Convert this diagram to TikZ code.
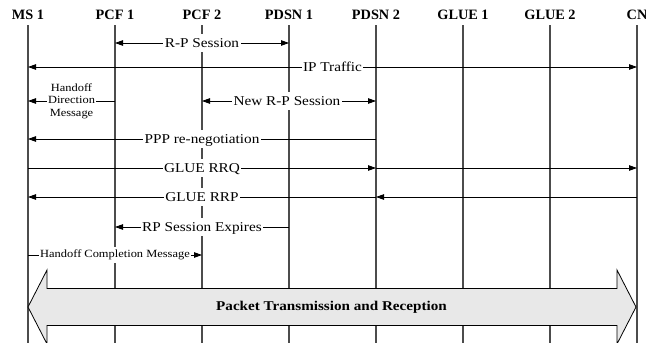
\documentclass[tikz,border=0pt]{standalone}
\usepackage{fontspec}
\setmainfont{Liberation Serif}
\newfontfamily\lblfont[FakeStretch=1.13]{Liberation Serif}
\usetikzlibrary{arrows.meta,calc}

\begin{document}
\begin{tikzpicture}[x=1pt,y=-1pt,
  head/.style={font=\fontsize{14.3}{16}\selectfont\bfseries, inner sep=0pt, anchor=base},
  life/.style={draw=black!70, line width=1.1pt},
  msg/.style={draw=black, line width=0.8pt},
  tipR/.style={-{Triangle[length=8pt,width=5.5pt]}},
  tipL/.style={{Triangle[length=8pt,width=5.5pt]}-},
  tipLR/.style={{Triangle[length=8pt,width=5.5pt]}-{Triangle[length=8pt,width=5.5pt]}},
  lbl/.style={font=\lblfont\fontsize{13.5}{15}\selectfont, fill=white,
    inner xsep=1.5pt, inner ysep=0pt, text height=9pt, text depth=0pt,
    minimum height=18pt},
  small/.style={font=\lblfont\fontsize{11}{12.5}\selectfont, fill=white,
    inner xsep=1.5pt, inner ysep=1pt, align=center},
  bigarrow/.style={draw=black, line width=0.8pt, fill=black!9},
  bigtext/.style={font=\lblfont\fontsize{13.4}{15}\selectfont\bfseries}
]
\useasboundingbox (0,0) rectangle (646,343);

% entity headers
\node[head] (ms1)   at (28,19)  {MS 1};
\node[head] (pcf1)  at (115,19) {PCF 1};
\node[head] (pcf2)  at (202,19) {PCF 2};
\node[head] (pdsn1) at (289,19) {PDSN 1};
\node[head] (pdsn2) at (376,19) {PDSN 2};
\node[head] (glue1) at (463,19) {GLUE 1};
\node[head] (glue2) at (550,19) {GLUE 2};
\node[head] (cn)    at (637,19) {CN};

% rows
\coordinate (top) at (0,25);
\coordinate (bot) at (0,343);
\coordinate (r1) at (0,43);
\coordinate (r2) at (0,67);
\coordinate (r3) at (0,101);
\coordinate (r4) at (0,139);
\coordinate (r5) at (0,168);
\coordinate (r6) at (0,197);
\coordinate (r7) at (0,227);
\coordinate (r8) at (0,255);
\coordinate (r9) at (0,307);

% lifelines
\foreach \e in {ms1,pcf1,pcf2,pdsn1,pdsn2,glue1,glue2,cn}
  \draw[life] (\e |- top) -- (\e |- bot);

% R-P Session
\draw[msg,tipLR] (pcf1 |- r1) -- (pdsn1 |- r1);
\node[lbl] (l1) at (pcf2 |- r1) {R-P Session};

% IP Traffic
\draw[msg,tipLR] (ms1 |- r2) -- (cn |- r2) node[lbl,pos=0.5] (l2) {IP Traffic};

% Handoff Direction Message
\draw[msg,tipL] (ms1 |- r3) -- (pcf1 |- r3)
  node[small,pos=0.5] (l3) {Handoff\\Direction\\Message};

% New R-P Session
\draw[msg,tipLR] (pcf2 |- r3) -- (pdsn2 |- r3);
\node[lbl] (l4) at ($(pdsn1 |- r3)+(-2,0)$) {New R-P Session};

% PPP re-negotiation
\draw[msg,tipL] (ms1 |- r4) -- (pdsn2 |- r4);
\node[lbl] (l5) at (pcf2 |- r4) {PPP re-negotiation};

% GLUE RRQ
\draw[msg,tipR] (ms1 |- r5) -- (pdsn2 |- r5);
\draw[msg,tipR] (pdsn2 |- r5) -- (cn |- r5);
\node[lbl] (l6) at (pcf2 |- r5) {GLUE RRQ};

% GLUE RRP
\draw[msg,tipL] (pdsn2 |- r6) -- (cn |- r6);
\draw[msg,tipL] (ms1 |- r6) -- (pdsn2 |- r6);
\node[lbl] (l7) at (pcf2 |- r6) {GLUE RRP};

% RP Session Expires
\draw[msg,tipL] (pcf1 |- r7) -- (pdsn1 |- r7);
\node[lbl] (l8) at (pcf2 |- r7) {RP Session Expires};

% Handoff Completion Message
\draw[msg,tipR] (ms1 |- r8) -- (pcf2 |- r8)
  node[small,pos=0.5,inner ysep=3pt] (l9) {Handoff Completion Message};

% packet transmission double arrow
\draw[bigarrow] (ms1 |- r9)
  -- ++(19,-37) -- ++(0,18.5) -- ($(cn |- r9)+(-20,-18.5)$)
  -- ++(0,-18.5) -- ($(cn |- r9)+(-1,0)$) -- ++(-19,37) -- ++(0,-18.5)
  -- ($(ms1 |- r9)+(19,18.5)$) -- ++(0,18.5) -- cycle;
\node[bigtext] (pkt) at ($(ms1 |- r9)!0.5!(cn |- r9)+(-1,0)$) {Packet Transmission and Reception};
\end{tikzpicture}
\end{document}
